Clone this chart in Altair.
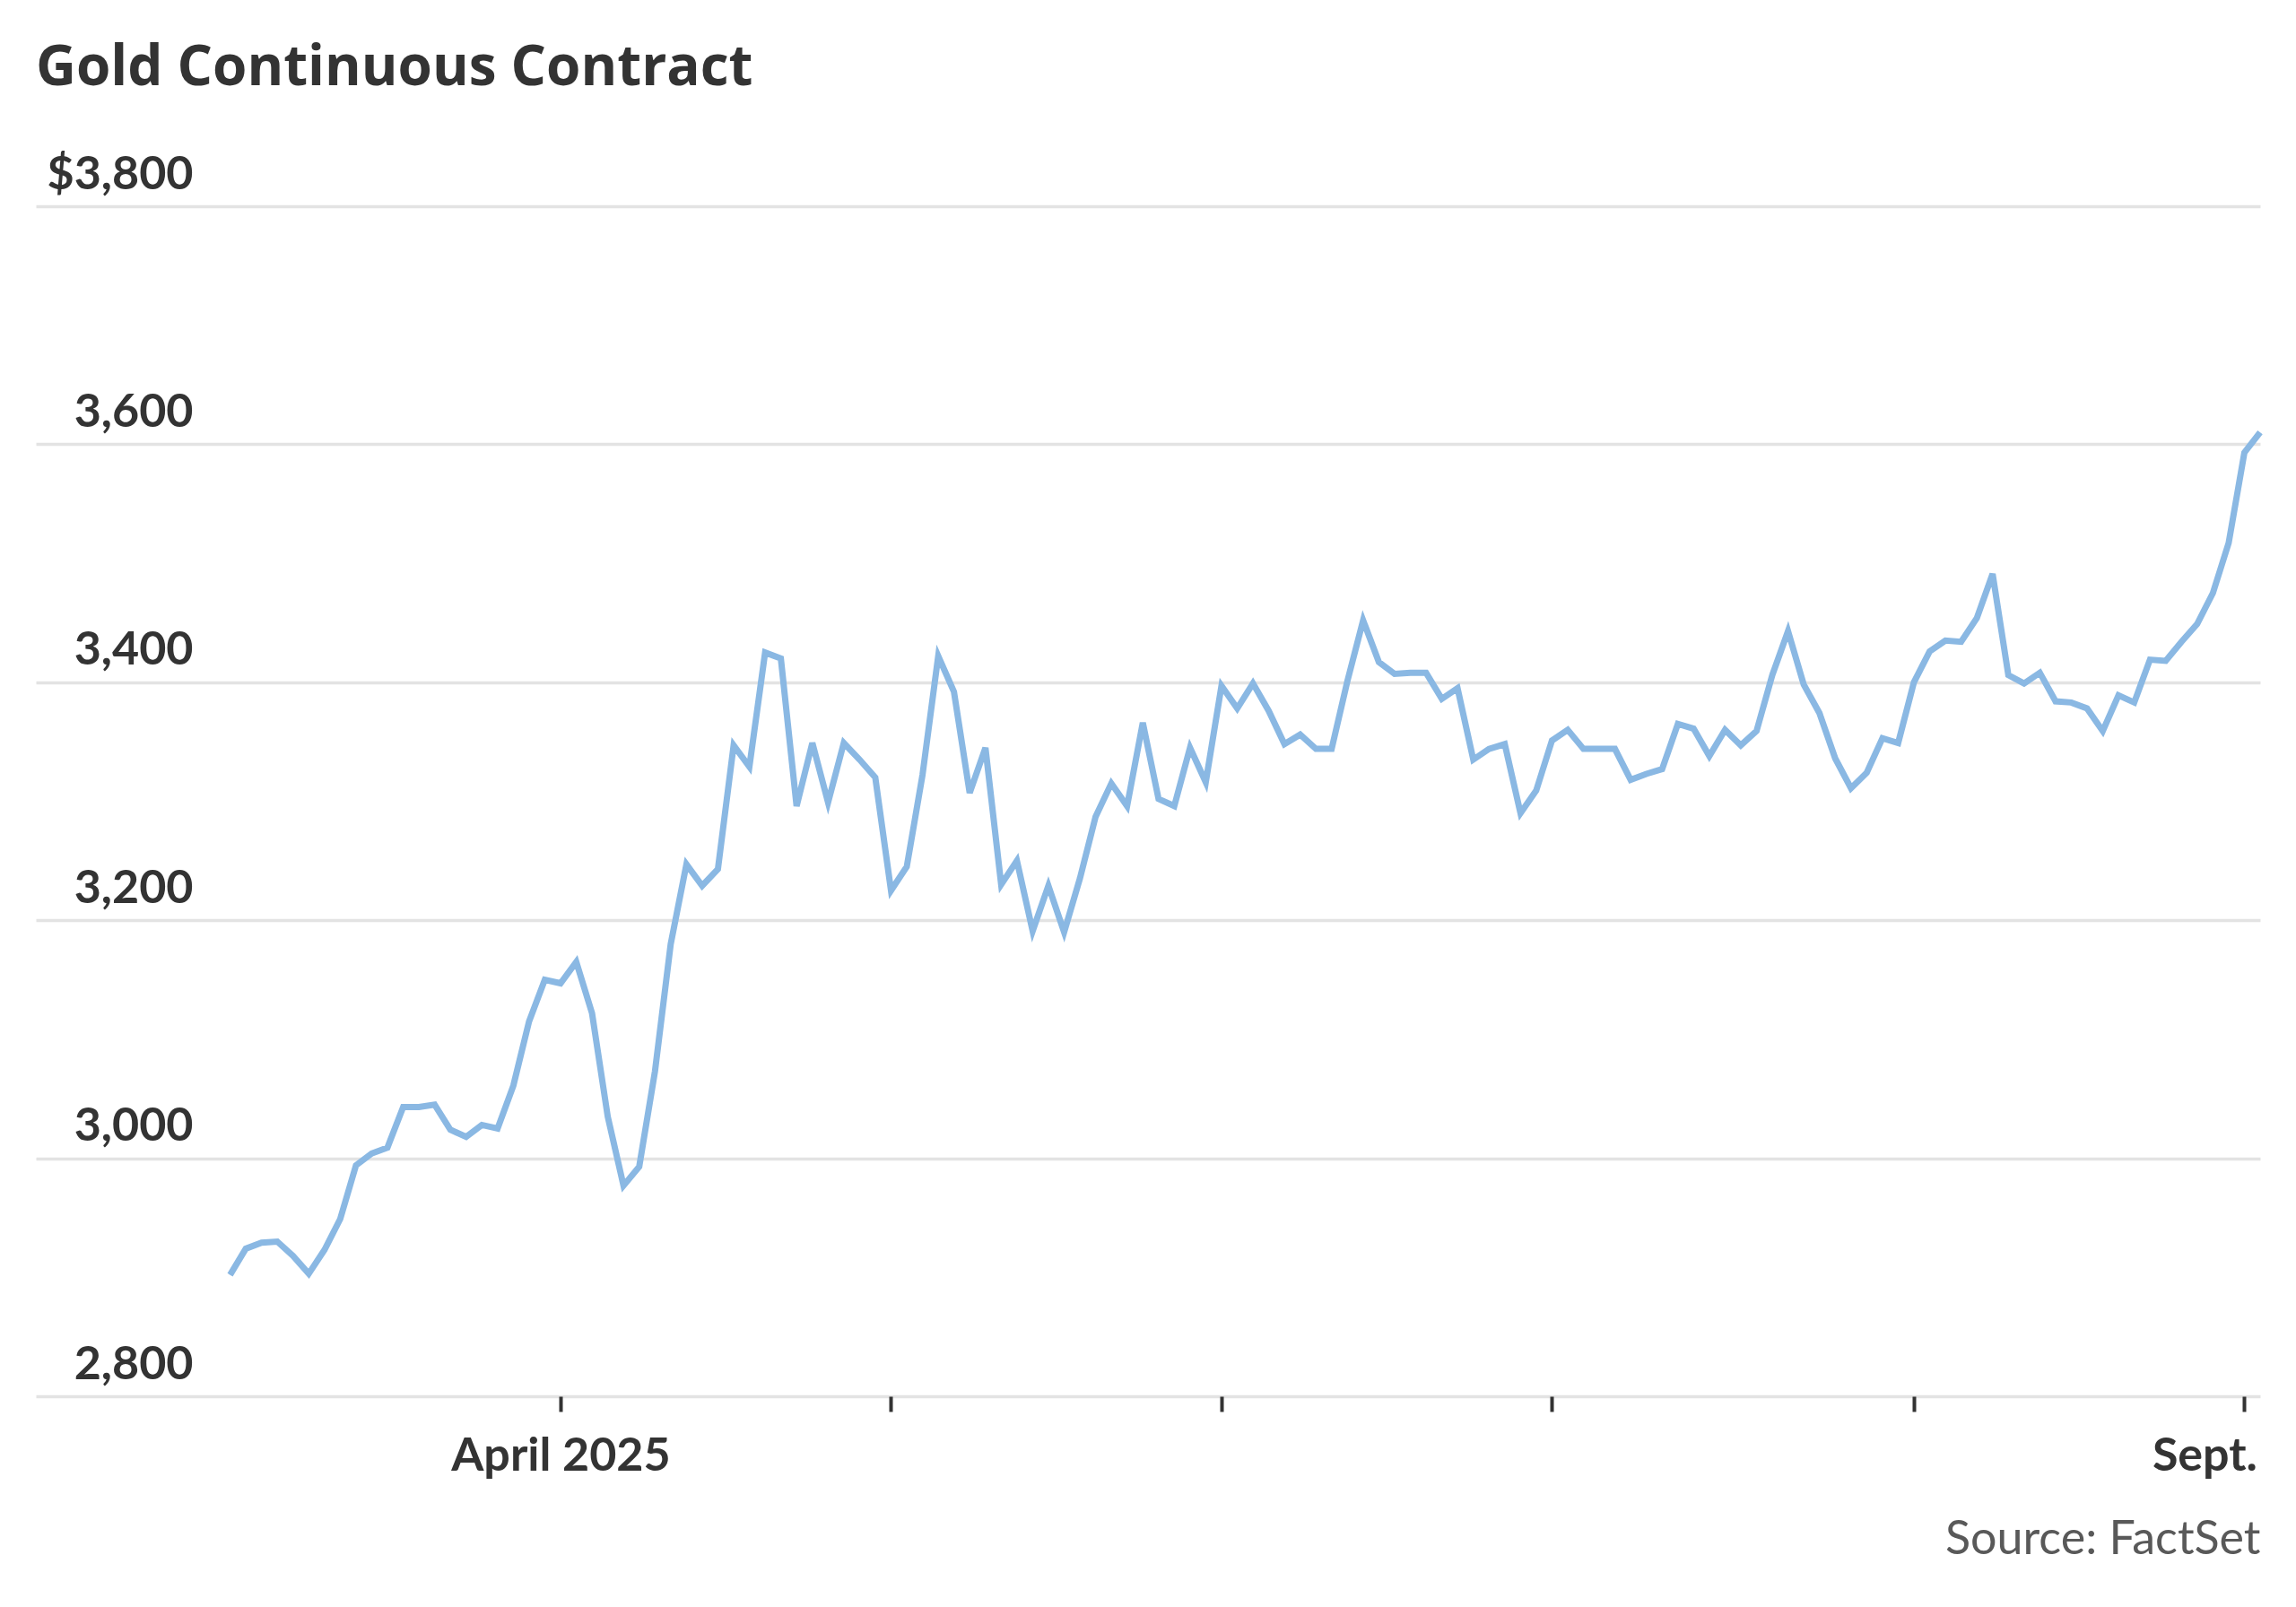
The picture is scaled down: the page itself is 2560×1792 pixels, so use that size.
import altair as alt
import pandas as pd

# Gold continuous contract, daily closes (trading-day index), Mar 3 – Sep 3, 2025
price = [
    2902, 2924, 2929, 2930, 2918, 2903, 2923, 2949, 2994, 3004,
    3009, 3043, 3043, 3045, 3024, 3018, 3028, 3025, 3061, 3115,
    3150, 3147, 3165, 3122, 3035, 2977, 2993, 3073, 3180, 3247,
    3229, 3243, 3347, 3329, 3425, 3420, 3296, 3349, 3299, 3349,
    3335, 3320, 3225, 3245, 3322, 3422, 3392, 3307, 3345, 3230,
    3250, 3191, 3229, 3190, 3235, 3287, 3315, 3296, 3366, 3302,
    3296, 3345, 3316, 3397, 3378, 3399, 3376, 3348, 3356, 3344,
    3344, 3401, 3452, 3417, 3407, 3408, 3408, 3386, 3395, 3335,
    3344, 3348, 3290, 3309, 3351, 3360, 3344, 3344, 3344, 3318,
    3323, 3327, 3365, 3361, 3338, 3360, 3347, 3359, 3406, 3443,
    3398, 3374, 3336, 3311, 3324, 3353, 3349, 3400, 3426, 3435,
    3434, 3454, 3491, 3406, 3399, 3408, 3384, 3383, 3378, 3359,
    3389, 3383, 3419, 3418, 3434, 3449, 3475, 3517, 3593, 3610,
]
day = list(range(len(price)))

# month-start ticks (trading-day index) and their labels
tick_pos = [21, 42, 63, 84, 107, 128]
tick_lab = ["April 2025", "", "", "", "", "Sept."]
y_ticks = [2800, 3000, 3200, 3400, 3600, 3800]

df = pd.DataFrame({"day": day, "price": price})

label_expr = " : ".join(
    f"datum.value == {p} ? '{l}'" for p, l in zip(tick_pos, tick_lab)
) + " : ''"

FONT = "Lato"
INK = "#333333"

line = alt.Chart(df).mark_line(
    color="#8ab8e3", strokeWidth=7, strokeJoin="miter"
).encode(
    x=alt.X(
        "day:Q",
        scale=alt.Scale(domain=[-12.34, 129], nice=False, zero=False),
        axis=alt.Axis(
            values=tick_pos,
            labelExpr=label_expr,
            grid=False,
            domain=False,
            ticks=True,
            tickColor=INK,
            tickSize=17,
            tickWidth=4,
            labelFont=FONT,
            labelFontSize=52,
            labelFontWeight=700,
            labelColor=INK,
            labelBaseline="alphabetic",
            labelPadding=65,
            labelFlush=25,
            labelFlushOffset=14,
            labelOverlap=False,
            labelLimit=600,
            title="Source: FactSet",
            titleFont=FONT,
            titleFontSize=52,
            titleFontWeight=400,
            titleColor="#595959",
            titleAnchor="end",
            titleAlign="right",
            titleBaseline="alphabetic",
            titleY=175,
        ),
    ),
    y=alt.Y(
        "price:Q",
        scale=alt.Scale(domain=[2800, 3800], nice=False, zero=False),
        axis=alt.Axis(
            values=y_ticks,
            labelExpr="datum.value == 3800 ? '$' + format(datum.value, ',') : format(datum.value, ',')",
            grid=True,
            gridColor="#e3e3e3",
            gridWidth=3.5,
            domain=False,
            ticks=False,
            tickSize=0,
            labelFont=FONT,
            labelFontSize=52,
            labelFontWeight=700,
            labelColor=INK,
            labelAlign="right",
            labelBaseline="alphabetic",
            labelPadding=-175,
            labelOffset=-20,
            labelLimit=600,
            title=None,
        ),
    ),
)

chart = line.properties(
    width=2480,
    height=1327,
    title=alt.TitleParams(
        "Gold Continuous Contract",
        anchor="start",
        frame="group",
        font="Open Sans",
        fontSize=62,
        fontWeight=700,
        color=INK,
        baseline="alphabetic",
        offset=11,
    ),
    autosize=alt.AutoSizeParams(type="none"),
    padding={"left": 32, "top": 222, "right": 32, "bottom": 210},
    background="white",
).configure_view(strokeWidth=0)

chart.save("out.html", embed_options={"renderer": "svg", "actions": False})
